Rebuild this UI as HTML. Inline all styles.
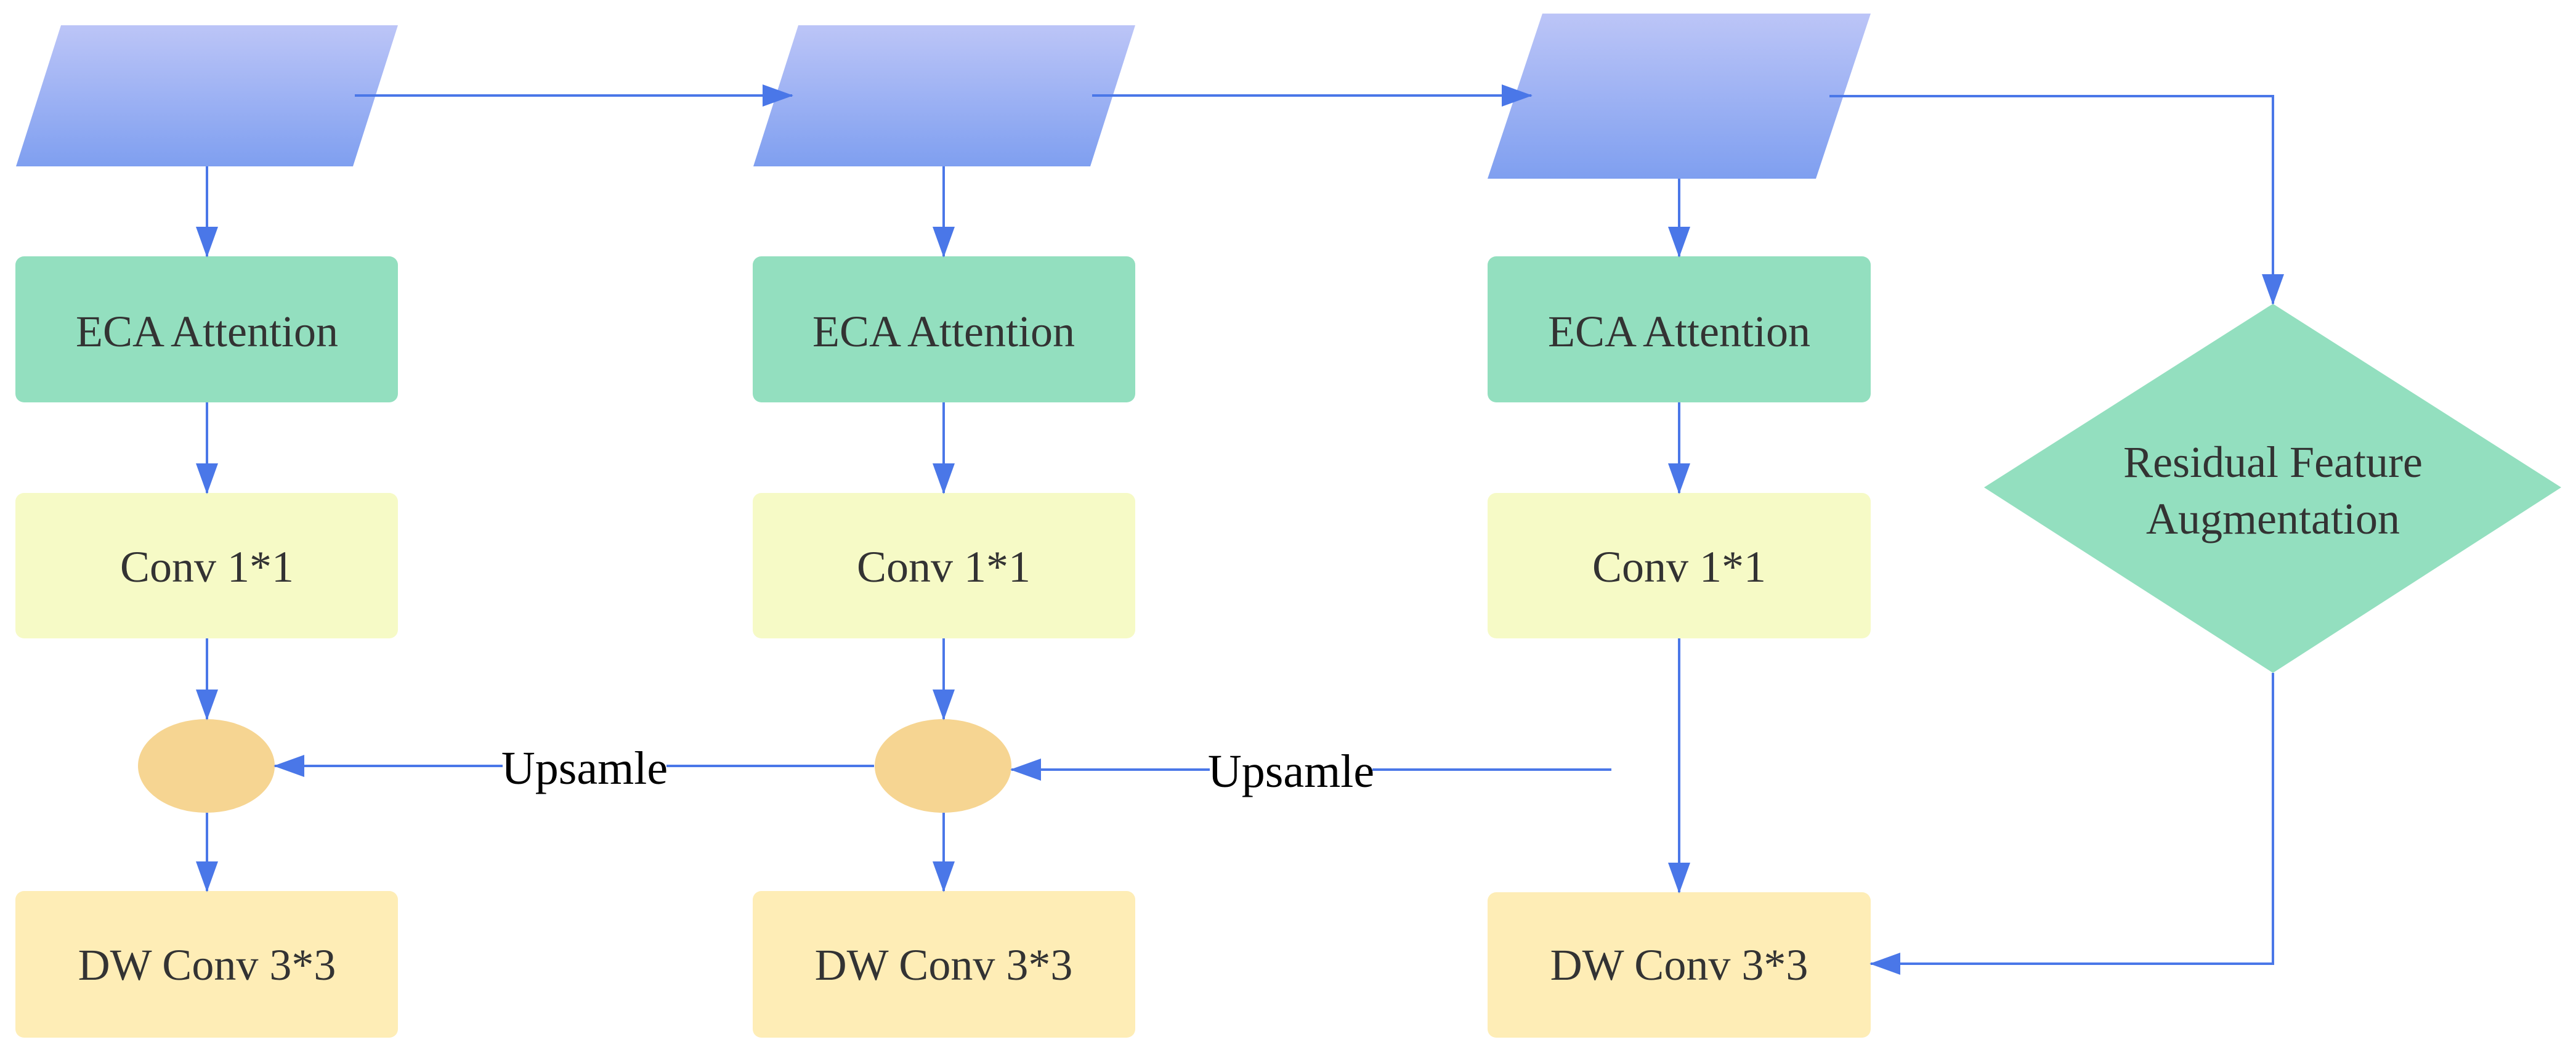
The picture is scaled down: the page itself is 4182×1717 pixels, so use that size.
<!DOCTYPE html>
<html><head><meta charset="utf-8"><style>html,body{margin:0;padding:0;background:#fff}svg{display:block}</style></head>
<body>
<svg width="4182" height="1717" viewBox="0 0 4182 1717" xmlns="http://www.w3.org/2000/svg">
<defs>
<linearGradient id="g" x1="0" y1="0" x2="0" y2="1"><stop offset="0" stop-color="#bcc5f7"/><stop offset="1" stop-color="#7f9ff0"/></linearGradient>
<marker id="a" viewBox="-50 -20 60 40" refX="0" refY="0" markerWidth="60" markerHeight="40" markerUnits="userSpaceOnUse" orient="auto" style="overflow:visible">
<path d="M-48,-18 L2,0 L-48,18 Z" fill="#4a77e8"/>
</marker>
</defs>
<!-- parallelograms -->
<polygon points="99,41 646,41 573,270 26,270" fill="url(#g)"/>
<polygon points="1296,41 1843,41 1770,270 1223,270" fill="url(#g)"/>
<polygon points="2504,22 3037,22 2948,290 2415,290" fill="url(#g)"/>
<!-- boxes -->
<rect x="25" y="416" width="621" height="237" rx="14" fill="#93dfbf"/>
<rect x="1222" y="416" width="621" height="237" rx="14" fill="#93dfbf"/>
<rect x="2415" y="416" width="622" height="237" rx="14" fill="#93dfbf"/>
<rect x="25" y="800" width="621" height="236" rx="14" fill="#f6fac6"/>
<rect x="1222" y="800" width="621" height="236" rx="14" fill="#f6fac6"/>
<rect x="2415" y="800" width="622" height="236" rx="14" fill="#f6fac6"/>
<rect x="25" y="1446" width="621" height="238" rx="14" fill="#feedb6"/>
<rect x="1222" y="1446" width="621" height="238" rx="14" fill="#feedb6"/>
<rect x="2415" y="1448" width="622" height="236" rx="14" fill="#feedb6"/>
<ellipse cx="335" cy="1243" rx="111" ry="76" fill="#f6d592"/>
<ellipse cx="1531" cy="1243" rx="111" ry="76" fill="#f6d592"/>
<polygon points="3690,493 4158,791 3690,1092 3221,791" fill="#93dfbf"/>
<!-- connectors -->
<g stroke="#4a77e8" stroke-width="4" fill="none">
<path d="M576,155 L1286,155" marker-end="url(#a)"/>
<path d="M1773,155 L2486,155" marker-end="url(#a)"/>
<path d="M2970,156 L3690,156 L3690,493" marker-end="url(#a)"/>
<path d="M3690,1092 L3690,1564 L3037,1564" marker-end="url(#a)"/>
<path d="M336,270 L336,416" marker-end="url(#a)"/>
<path d="M336,653 L336,800" marker-end="url(#a)"/>
<path d="M336,1036 L336,1167" marker-end="url(#a)"/>
<path d="M336,1319 L336,1446" marker-end="url(#a)"/>
<path d="M1532,270 L1532,416" marker-end="url(#a)"/>
<path d="M1532,653 L1532,800" marker-end="url(#a)"/>
<path d="M1532,1036 L1532,1167" marker-end="url(#a)"/>
<path d="M1532,1319 L1532,1446" marker-end="url(#a)"/>
<path d="M2726,290 L2726,416" marker-end="url(#a)"/>
<path d="M2726,653 L2726,800" marker-end="url(#a)"/>
<path d="M2726,1036 L2726,1448" marker-end="url(#a)"/>
<path d="M1419,1243 L446,1243" marker-end="url(#a)"/>
<path d="M2616,1249 L1642,1249" marker-end="url(#a)"/>
</g>
<rect x="816" y="1205" width="266" height="80" fill="#fff"/>
<rect x="1964" y="1210" width="264" height="80" fill="#fff"/>
<g font-family="Liberation Serif, DejaVu Serif, serif" text-anchor="middle" dominant-baseline="central">
<text font-size="76" fill="#000" x="949" y="1247">Upsamle</text>
<text font-size="76" fill="#000" x="2096" y="1252">Upsamle</text>
<g font-size="72" fill="#333">
<text x="336" y="538">ECA Attention</text>
<text x="1532" y="538">ECA Attention</text>
<text x="2726" y="538">ECA Attention</text>
<text x="336" y="920">Conv 1*1</text>
<text x="1532" y="920">Conv 1*1</text>
<text x="2726" y="920">Conv 1*1</text>
<text x="336" y="1566">DW Conv 3*3</text>
<text x="1532" y="1566">DW Conv 3*3</text>
<text x="2726" y="1566">DW Conv 3*3</text>
<text x="3690" y="750">Residual Feature</text>
<text x="3690" y="842">Augmentation</text>
</g>
</g>
</svg>
</body></html>
